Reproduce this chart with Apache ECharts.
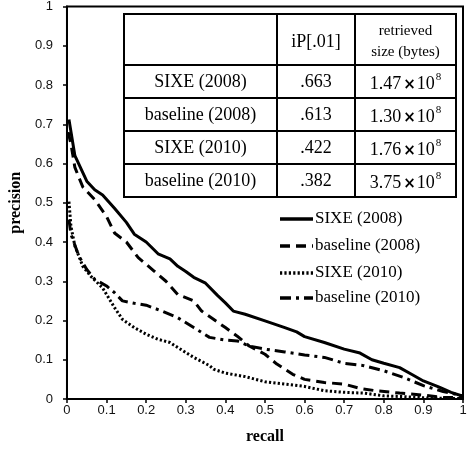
<!DOCTYPE html>
<html>
<head>
<meta charset="utf-8">
<script src="https://cdn.jsdelivr.net/npm/echarts@6/dist/echarts.min.js"></script>
<style>
  html, body { margin: 0; padding: 0; background: #fff; }
  #chart-container { width: 474px; height: 450px; }
</style>
</head>
<body>
<div id="chart-container"></div>
<script>
var dom = document.getElementById("chart-container");
var myChart = echarts.init(dom, null, { renderer: "canvas" });

// precision / recall curves
var sixe2008Recall = [0.005, 0.02, 0.05, 0.07, 0.09, 0.12, 0.15, 0.17, 0.2, 0.23, 0.26, 0.28, 0.3, 0.32, 0.35, 0.38, 0.4, 0.42, 0.45, 0.5, 0.55, 0.58, 0.6, 0.65, 0.7, 0.74, 0.77, 0.8, 0.84, 0.87, 0.9, 0.94, 0.97, 1];
var sixe2008Prec = [0.712, 0.62, 0.555, 0.533, 0.52, 0.486, 0.45, 0.42, 0.4, 0.37, 0.357, 0.338, 0.325, 0.31, 0.295, 0.264, 0.245, 0.224, 0.216, 0.199, 0.182, 0.171, 0.159, 0.144, 0.127, 0.117, 0.1, 0.091, 0.08, 0.063, 0.046, 0.03, 0.017, 0.007];

var base2008Recall = [0.003, 0.01, 0.02, 0.04, 0.07, 0.1, 0.12, 0.15, 0.18, 0.22, 0.25, 0.28, 0.32, 0.34, 0.37, 0.4, 0.43, 0.46, 0.5, 0.53, 0.57, 0.6, 0.65, 0.7, 0.74, 0.78, 0.84, 0.9, 0.95, 1];
var base2008Prec = [0.68, 0.65, 0.59, 0.54, 0.508, 0.465, 0.423, 0.4, 0.36, 0.326, 0.3, 0.266, 0.25, 0.224, 0.203, 0.182, 0.16, 0.135, 0.114, 0.089, 0.063, 0.05, 0.042, 0.038, 0.027, 0.021, 0.015, 0.01, 0.004, 0.003];

var sixe2010Recall = [0.005, 0.01, 0.02, 0.04, 0.06, 0.09, 0.12, 0.14, 0.17, 0.2, 0.23, 0.26, 0.28, 0.32, 0.36, 0.37, 0.4, 0.45, 0.5, 0.55, 0.6, 0.65, 0.7, 0.75, 0.8, 0.85, 0.9, 1];
var sixe2010Prec = [0.503, 0.44, 0.39, 0.338, 0.313, 0.283, 0.233, 0.203, 0.182, 0.165, 0.152, 0.144, 0.131, 0.106, 0.085, 0.076, 0.066, 0.057, 0.044, 0.038, 0.032, 0.021, 0.017, 0.015, 0.008, 0.006, 0.003, 0.001];

var base2010Recall = [0.005, 0.01, 0.03, 0.05, 0.07, 0.1, 0.12, 0.14, 0.17, 0.2, 0.24, 0.28, 0.32, 0.36, 0.4, 0.43, 0.46, 0.5, 0.55, 0.6, 0.65, 0.7, 0.75, 0.8, 0.85, 0.9, 0.95, 1];
var base2010Prec = [0.457, 0.42, 0.364, 0.33, 0.305, 0.288, 0.271, 0.25, 0.244, 0.239, 0.224, 0.207, 0.182, 0.157, 0.15, 0.148, 0.135, 0.127, 0.12, 0.112, 0.106, 0.091, 0.085, 0.072, 0.055, 0.034, 0.019, 0.008];

var seriesNames = ["SIXE (2008)", "baseline (2008)", "SIXE (2010)", "baseline (2010)"];

// inset table
var tableHeader = ["", "iP[.01]", "retrieved\nsize (bytes)"];
var iP01 = [".663", ".613", ".422", ".382"];
var sizeMantissa = ["1.47", "1.30", "1.76", "3.75"];
var sizeExponent = ["8", "8", "8", "8"];

function pairs(xs, ys) {
  return xs.map(function (x, i) { return [x, ys[i]]; });
}

var serif = "Liberation Serif";
var dashes = ["solid", [10, 6], [2.2, 2.2], [11, 5, 3, 5]];
var widths = [3, 3, 3, 3];

// table geometry
var tLeft = 124, tRight = 456, tTop = 14;
var colX = [tLeft, 277, 355, tRight];
var rowY = [tTop, 65, 98, 131, 164, 197];
var graphics = [];
graphics.push({
  type: "rect",
  shape: { x: tLeft, y: tTop, width: tRight - tLeft, height: rowY[5] - tTop },
  style: { fill: "#fff", stroke: "#000", lineWidth: 2 },
  z: 10
});
for (var c = 1; c < 3; c++) {
  graphics.push({
    type: "line",
    shape: { x1: colX[c], y1: tTop, x2: colX[c], y2: rowY[5] },
    style: { stroke: "#000", lineWidth: 2 },
    z: 11
  });
}
for (var r = 1; r < 5; r++) {
  graphics.push({
    type: "line",
    shape: { x1: tLeft, y1: rowY[r], x2: tRight, y2: rowY[r] },
    style: { stroke: "#000", lineWidth: 2 },
    z: 11
  });
}
function cellText(txt, col, row, size, dy, rich) {
  graphics.push({
    type: "text",
    x: (colX[col] + colX[col + 1]) / 2,
    y: (rowY[row] + rowY[row + 1]) / 2 + (dy || 0),
    style: {
      text: txt,
      fill: "#000",
      font: size + "px '" + serif + "'",
      textAlign: "center",
      textVerticalAlign: "middle",
      lineHeight: 21,
      rich: rich
    },
    z: 12
  });
}
var supRich = {
  m: { fontFamily: serif, fontSize: 18, lineHeight: 22, verticalAlign: "bottom" },
  x: { fontFamily: "DejaVu Sans", fontSize: 15, fontWeight: "bold", lineHeight: 22, verticalAlign: "bottom", padding: [0, 1, 1, 2] },
  s: { fontFamily: serif, fontSize: 11, lineHeight: 22, verticalAlign: "top", padding: [0, 0, 0, 1] }
};
cellText(tableHeader[1], 1, 0, 18, 3);
cellText(tableHeader[2], 2, 0, 15, 2);
for (var i = 0; i < seriesNames.length; i++) {
  cellText(seriesNames[i], 0, i + 1, 18, 1);
  cellText(iP01[i], 1, i + 1, 18, 1);
  cellText("{m|" + sizeMantissa[i] + "}{x|\u00d7}{m|10}{s|" + sizeExponent[i] + "}", 2, i + 1, 18, 1, supRich);
}

// legend drawn as line samples + labels
var legRows = [219, 246, 273, 298];
for (var k = 0; k < seriesNames.length; k++) {
  graphics.push({
    type: "line",
    shape: { x1: 280, y1: legRows[k], x2: 313, y2: legRows[k] },
    style: {
      stroke: "#000",
      lineWidth: widths[k] + 0.5,
      lineDash: dashes[k] === "solid" ? null : dashes[k]
    },
    z: 12
  });
  graphics.push({
    type: "text",
    x: 315,
    y: legRows[k],
    style: {
      text: seriesNames[k],
      fill: "#000",
      font: "17px '" + serif + "'",
      textAlign: "left",
      textVerticalAlign: "middle"
    },
    z: 12
  });
}

function lineSeries(idx, data) {
  return {
    name: seriesNames[idx],
    type: "line",
    data: data,
    symbol: "none",
    smooth: false,
    lineStyle: { color: "#000", width: widths[idx], type: dashes[idx], cap: "butt" },
    itemStyle: { color: "#000" },
    z: 3
  };
}

var option = {
  backgroundColor: "#fff",
  animation: false,
  grid: {
    left: 65, right: 11, top: 6, bottom: 50,
    show: true, borderColor: "#000", borderWidth: 2
  },
  xAxis: {
    type: "value",
    min: 0, max: 1, interval: 0.1,
    name: "recall",
    nameLocation: "middle",
    nameGap: 30,
    nameTextStyle: { fontFamily: serif, fontWeight: "bold", fontSize: 16, color: "#000" },
    axisLine: { lineStyle: { color: "#000", width: 2 } },
    axisTick: { lineStyle: { color: "#000", width: 1.5 }, length: 4 },
    splitLine: { show: false },
    axisLabel: { fontFamily: "Liberation Sans", fontSize: 13, color: "#111", margin: 5 }
  },
  yAxis: {
    type: "value",
    min: 0, max: 1, interval: 0.1,
    name: "precision",
    nameLocation: "middle",
    nameGap: 42,
    nameTextStyle: { fontFamily: serif, fontWeight: "bold", fontSize: 16, color: "#000" },
    axisLine: { lineStyle: { color: "#000", width: 2 } },
    axisTick: { lineStyle: { color: "#000", width: 1.5 }, length: 4 },
    splitLine: { show: false },
    axisLabel: { fontFamily: "Liberation Sans", fontSize: 13, color: "#111", margin: 14 }
  },
  series: [
    lineSeries(0, pairs(sixe2008Recall, sixe2008Prec)),
    lineSeries(1, pairs(base2008Recall, base2008Prec)),
    lineSeries(2, pairs(sixe2010Recall, sixe2010Prec)),
    lineSeries(3, pairs(base2010Recall, base2010Prec))
  ],
  graphic: graphics
};

myChart.setOption(option);
window.addEventListener("resize", myChart.resize);
</script>
</body>
</html>
